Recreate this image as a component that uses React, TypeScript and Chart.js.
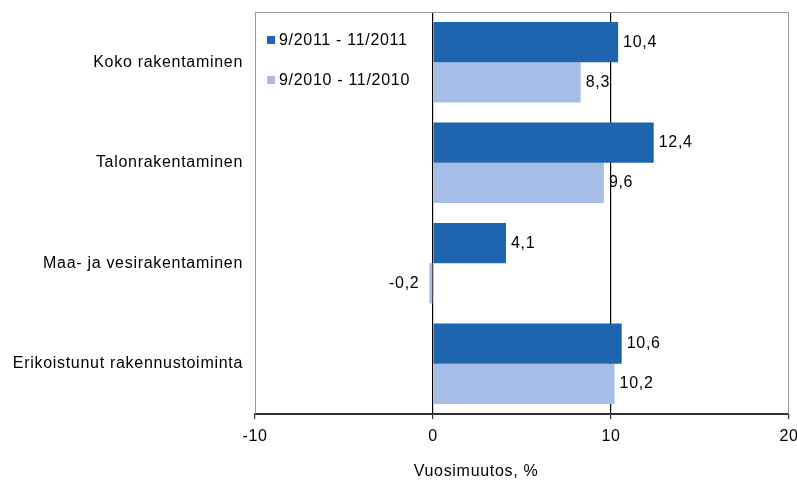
import React, { useEffect, useRef } from "react";
import { Chart, registerables } from "chart.js";

Chart.register(...registerables);

const categories = [
  "Koko rakentaminen",
  "Talonrakentaminen",
  "Maa- ja vesirakentaminen",
  "Erikoistunut rakennustoiminta",
];
const series2011Label = "9/2011 - 11/2011";
const series2011 = [10.4, 12.4, 4.1, 10.6];
const series2010Label = "9/2010 - 11/2010";
const series2010 = [8.3, 9.6, -0.2, 10.2];
const xMin = -10;
const xMax = 20;
const xStep = 10;
const axisTitle = "Vuosimuutos, %";

const DARK = "#1E64AE";
const LIGHT = "#A6BDE8";
const FONT_FAMILY = "'Liberation Sans', Arial, sans-serif";
const FONT_SIZE = 16;
const LETTER_SPACING = "0.7px";

const fmt = (v: number) => v.toFixed(1).replace(".", ",");

const spacingPlugin = {
  id: "spacing",
  beforeInit(chart: any) {
    chart.ctx.letterSpacing = LETTER_SPACING;
  },
  beforeUpdate(chart: any) {
    chart.ctx.letterSpacing = LETTER_SPACING;
  },
  beforeDraw(chart: any) {
    chart.ctx.letterSpacing = LETTER_SPACING;
  },
};

const framePlugin = {
  id: "frame",
  beforeDatasetsDraw(chart: any) {
    const { ctx, chartArea } = chart;
    ctx.save();
    ctx.strokeStyle = "#9a9a9a";
    ctx.lineWidth = 1;
    ctx.beginPath();
    ctx.moveTo(chartArea.left + 0.5, chartArea.bottom);
    ctx.lineTo(chartArea.left + 0.5, chartArea.top + 0.5);
    ctx.lineTo(chartArea.right - 0.5, chartArea.top + 0.5);
    ctx.lineTo(chartArea.right - 0.5, chartArea.bottom);
    ctx.stroke();
    ctx.restore();
  },
};

const labelsPlugin = {
  id: "valueLabels",
  afterDatasetsDraw(chart: any) {
    const { ctx } = chart;
    ctx.save();
    ctx.font = `${FONT_SIZE}px ${FONT_FAMILY}`;
    ctx.fillStyle = "#000";
    ctx.textBaseline = "middle";
    chart.data.datasets.forEach((ds: any, di: number) => {
      const meta = chart.getDatasetMeta(di);
      meta.data.forEach((bar: any, i: number) => {
        const v = ds.data[i] as number;
        if (v >= 0) {
          ctx.textAlign = "left";
          ctx.fillText(fmt(v), bar.x + 5, bar.y);
        } else {
          ctx.textAlign = "right";
          ctx.fillText(fmt(v), bar.x - 10, bar.y);
        }
      });
    });
    ctx.restore();
  },
};

const legendPlugin = {
  id: "insideLegend",
  afterDraw(chart: any) {
    const { ctx, chartArea } = chart;
    ctx.save();
    ctx.font = `${FONT_SIZE}px ${FONT_FAMILY}`;
    ctx.textBaseline = "middle";
    ctx.textAlign = "left";
    chart.data.datasets.forEach((ds: any, i: number) => {
      const y = chartArea.top + 28 + i * 40;
      const x = chartArea.left + 12;
      ctx.fillStyle = ds.backgroundColor;
      ctx.fillRect(x, y - 4, 8, 8);
      ctx.fillStyle = "#000";
      ctx.fillText(ds.label, x + 12, y + 1);
    });
    ctx.restore();
  },
};

const titlePlugin = {
  id: "axisTitle",
  afterDraw(chart: any) {
    const { ctx, chartArea } = chart;
    ctx.save();
    ctx.font = `${FONT_SIZE}px ${FONT_FAMILY}`;
    ctx.fillStyle = "#000";
    ctx.textAlign = "center";
    ctx.textBaseline = "middle";
    ctx.fillText(axisTitle, chartArea.left + chartArea.width * 0.414, chartArea.bottom + 58);
    ctx.restore();
  },
};

export default function App() {
  const ref = useRef<HTMLCanvasElement | null>(null);

  useEffect(() => {
    if (!ref.current) return;
    const chart = new Chart(ref.current, {
      type: "bar",
      data: {
        labels: categories,
        datasets: [
          {
            label: series2011Label,
            data: series2011,
            backgroundColor: DARK,
            borderWidth: 0,
            categoryPercentage: 0.8,
            barPercentage: 1.0,
          },
          {
            label: series2010Label,
            data: series2010,
            backgroundColor: LIGHT,
            borderWidth: 0,
            categoryPercentage: 0.8,
            barPercentage: 1.0,
          },
        ],
      },
      options: {
        indexAxis: "y",
        responsive: false,
        animation: false,
        devicePixelRatio: 1,
        layout: { padding: { top: 12, right: 8, left: 0, bottom: 0 } },
        plugins: {
          legend: { display: false },
          tooltip: { enabled: false },
        },
        scales: {
          x: {
            type: "linear",
            min: xMin,
            max: xMax,
            ticks: {
              stepSize: xStep,
              color: "#000",
              padding: 8,
              font: { family: FONT_FAMILY, size: FONT_SIZE },
              callback: (v: any) => String(v),
            },
            grid: {
              color: (c: any) =>
                c.tick && (c.tick.value === xMin || c.tick.value === xMax)
                  ? "rgba(0,0,0,0)"
                  : "#000",
              lineWidth: 1.2,
              drawTicks: true,
              tickLength: 5,
              tickColor: "#333",
            },
            border: { display: true, color: "#333", width: 2 },
            afterFit: (scale: any) => {
              scale.height = 67;
              scale.paddingLeft = 0;
              scale.paddingRight = 0;
            },
          },
          y: {
            type: "category",
            ticks: {
              color: "#000",
              padding: 12,
              font: { family: FONT_FAMILY, size: FONT_SIZE },
            },
            grid: { display: false, drawTicks: false },
            border: { display: false },
            afterFit: (scale: any) => {
              scale.width = 255;
              scale.paddingTop = 0;
              scale.paddingBottom = 0;
            },
          },
        },
      },
      plugins: [spacingPlugin, framePlugin, labelsPlugin, legendPlugin, titlePlugin],
    });
    return () => chart.destroy();
  }, []);

  return (
    <div style={{ position: "fixed", left: 0, top: 0, width: 797, height: 481, background: "#fff" }}>
      <canvas ref={ref} width={797} height={481} />
    </div>
  );
}
